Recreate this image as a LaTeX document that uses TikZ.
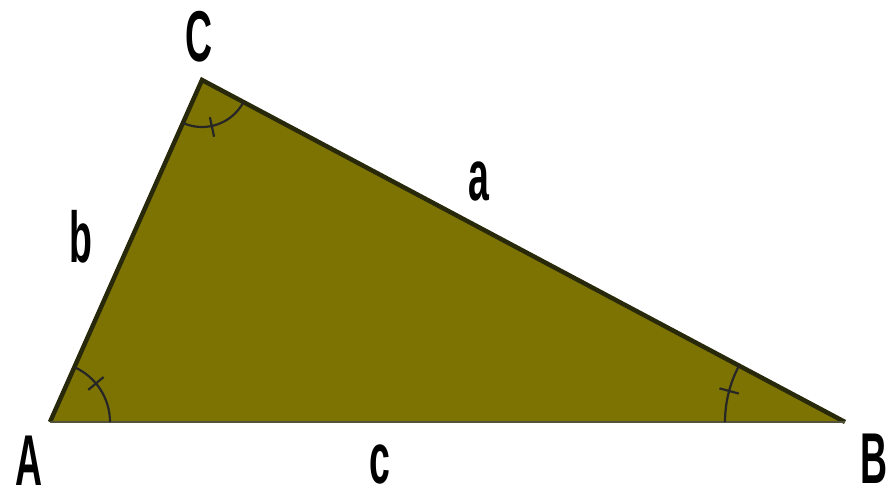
\documentclass[tikz,border=0pt]{standalone}
\usepackage{fontspec}
\setmainfont{Liberation Sans}
\definecolor{olivefill}{RGB}{125,115,2}
\definecolor{edgedark}{RGB}{40,40,10}
\begin{document}
\begin{tikzpicture}[x=1pt,y=-1pt,
  lbl/.style={font=\fontsize{72}{72}\selectfont\bfseries, inner sep=0pt, anchor=base},
  arcline/.style={draw=black!85, line width=2.2pt}]
\useasboundingbox (0,0) rectangle (893,497);
\coordinate (A) at (50,422);
\coordinate (B) at (845,422);
\coordinate (C) at (202,80);
\fill[olivefill] (A) -- (B) -- (C) -- cycle;
\draw[edgedark, line width=4.5pt, line join=miter] (A) -- (C) -- (B);
\draw[edgedark!80, line width=1.5pt] (A) -- (B);
% angle arcs (y axis points down, so angles are measured clockwise)
\draw[arcline] ([shift={(0:60)}]A) arc[start angle=0, end angle=-66, radius=60];
\draw[arcline] ([shift={(-40:50)}]A) -- ([shift={(-40:70)}]A);
\draw[arcline] ([shift={(114:47)}]C) arc[start angle=114, end angle=28, radius=47];
\draw[arcline] ([shift={(78:38)}]C) -- ([shift={(78:58)}]C);
\draw[arcline] ([shift={(180:120)}]B) arc[start angle=180, end angle=208, radius=120];
\draw[arcline] ([shift={(195:110)}]B) -- ([shift={(195:130)}]B);
\node[lbl] (lC) at (199,62) {\scalebox{0.52}[1]{C}};
\node[lbl] (lA) at (29,485) {\scalebox{0.52}[1]{A}};
\node[lbl] (lB) at (874,483) {\scalebox{0.52}[1]{B}};
\node[lbl] (la) at (479,200) {\scalebox{0.52}[1]{a}};
\node[lbl] (lb) at (81,262) {\scalebox{0.52}[1]{b}};
\node[lbl] (lc) at (380,483) {\scalebox{0.52}[1]{c}};
\end{tikzpicture}
\end{document}
